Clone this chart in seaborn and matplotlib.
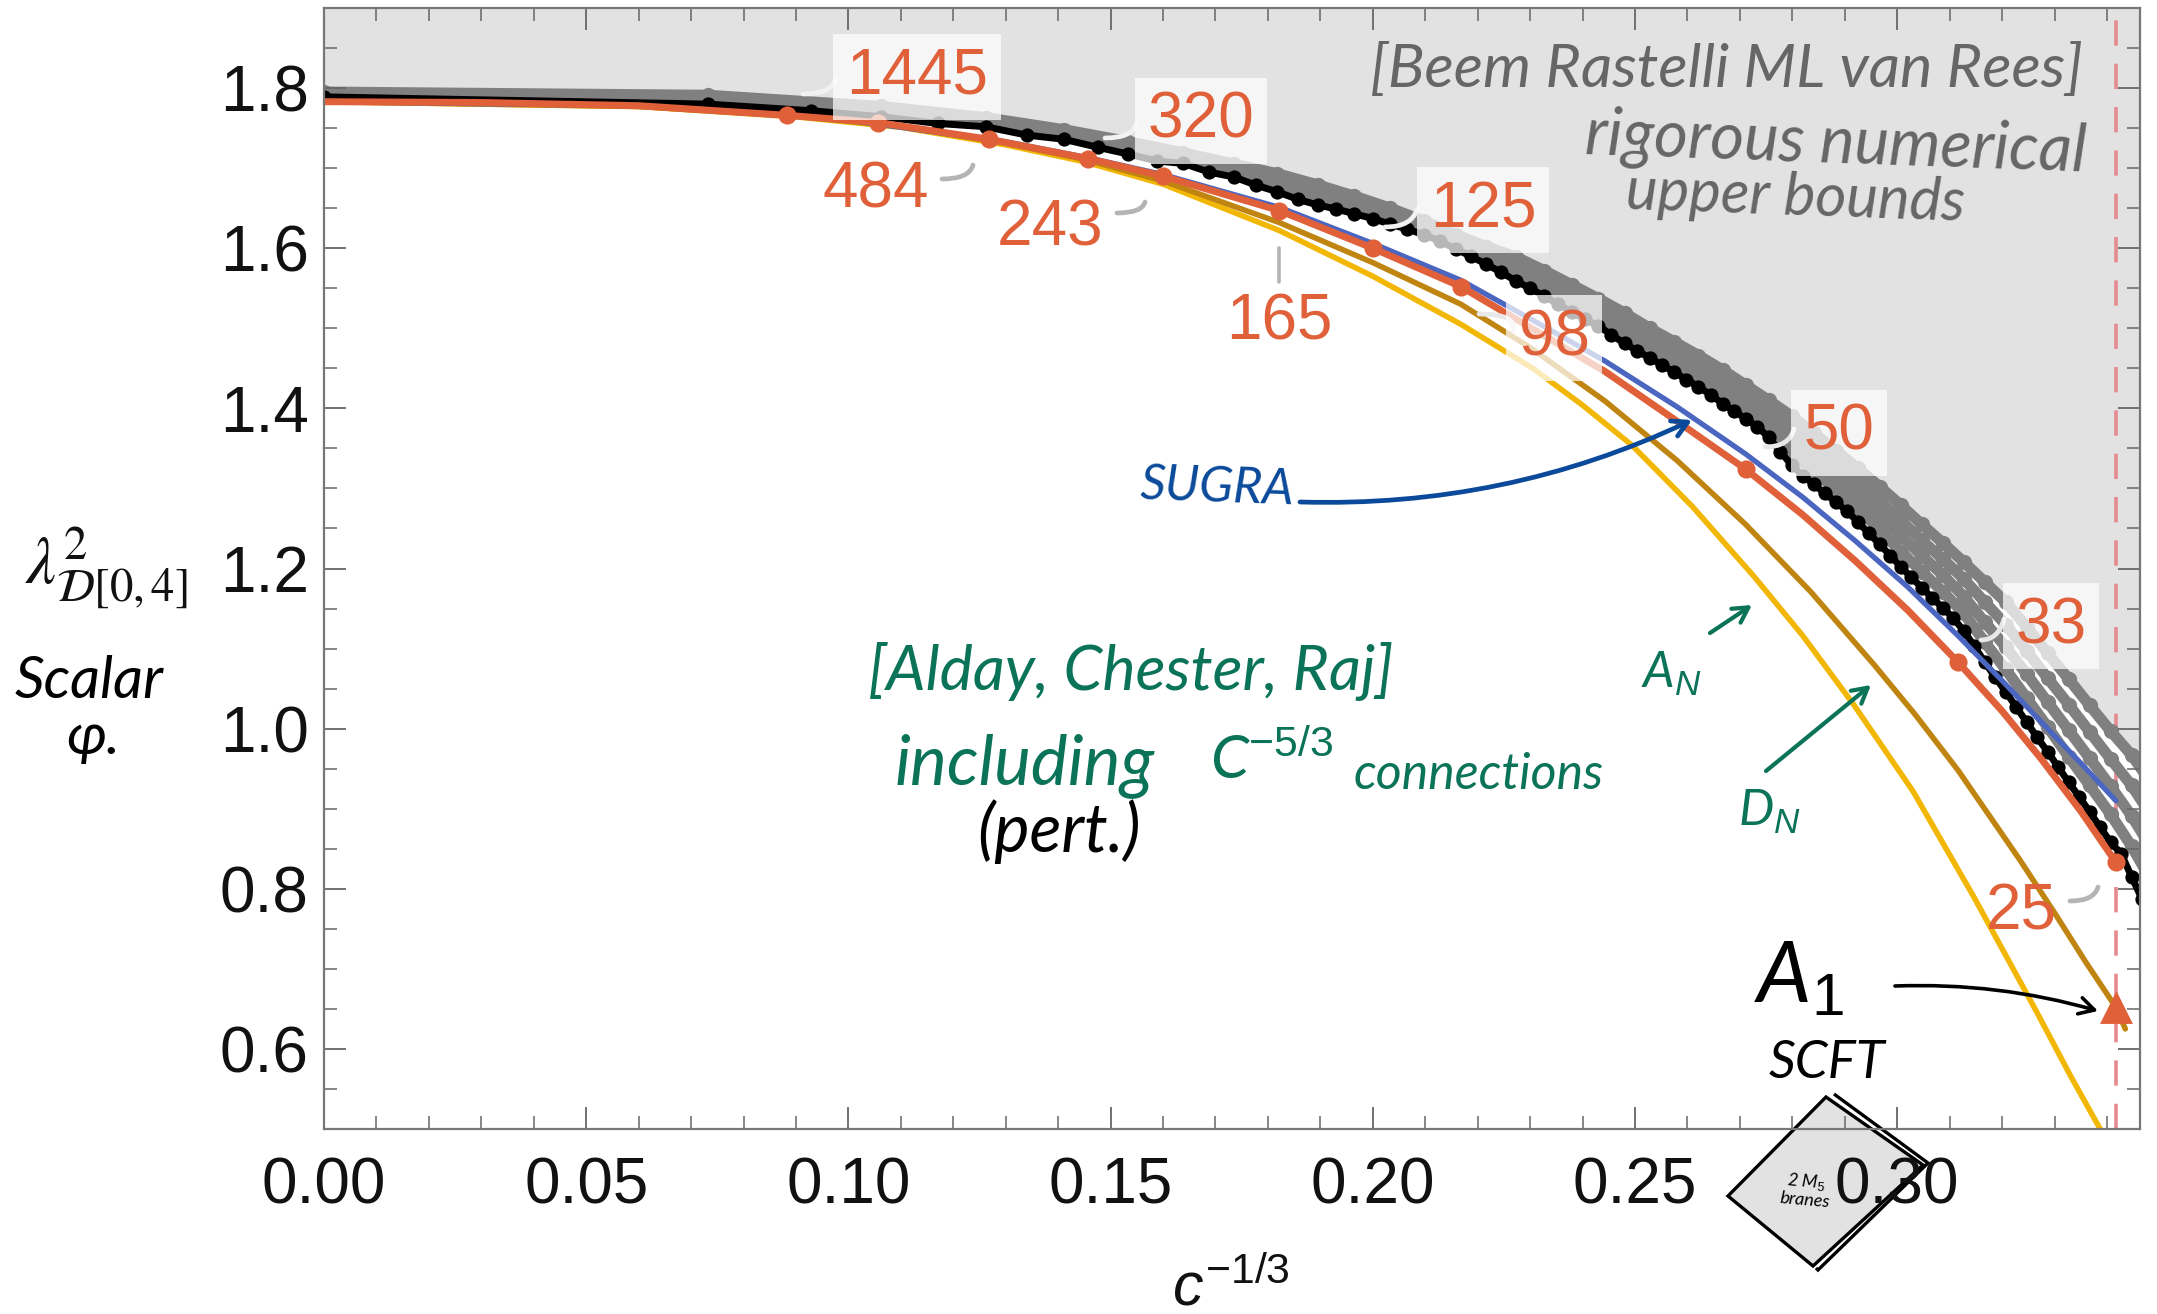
import matplotlib
matplotlib.use("Agg")
import matplotlib.pyplot as plt
import seaborn as sns
from matplotlib.patches import Polygon
from matplotlib.ticker import MultipleLocator

# c^(-1/3) against the OPE coefficient
a_x = [0.0, 0.03, 0.06, 0.0883, 0.1056, 0.1269, 0.1457, 0.16, 0.1822, 0.2, 0.2168, 0.23, 0.2443, 0.258, 0.2711, 0.282,
       0.2921, 0.302, 0.3116, 0.32, 0.3275, 0.335, 0.3417]
a_y = [1.783, 1.782, 1.778, 1.766, 1.757, 1.736, 1.712, 1.69, 1.647, 1.60, 1.552, 1.501, 1.446, 1.384, 1.324, 1.267,
       1.209, 1.148, 1.083, 1.022, 0.962, 0.897, 0.833]
marker_x = [0.0883, 0.1056, 0.1269, 0.1457, 0.16, 0.1822, 0.2, 0.2168, 0.2711, 0.3116, 0.3417]
marker_y = [1.766, 1.757, 1.736, 1.712, 1.69, 1.647, 1.60, 1.552, 1.324, 1.083, 0.833]

sugra_x = [0.0, 0.06, 0.1, 0.13, 0.1457, 0.16, 0.1822, 0.2, 0.2168, 0.23, 0.2443, 0.258, 0.2711, 0.282, 0.2921, 0.302,
           0.3116, 0.32, 0.3275, 0.335, 0.3417]
sugra_y = [1.783, 1.778, 1.76, 1.733, 1.713, 1.692, 1.651, 1.606, 1.56, 1.512, 1.459, 1.402, 1.343, 1.289, 1.234, 1.177,
           1.116, 1.06, 1.008, 0.957, 0.91]

d_x = [0.0, 0.06, 0.09, 0.11, 0.13, 0.145, 0.16, 0.1822, 0.2, 0.2168, 0.23, 0.2443, 0.258, 0.2711, 0.2835, 0.2957,
       0.3035, 0.3116, 0.3175, 0.3235, 0.33, 0.336, 0.3417, 0.3435]
d_y = [1.783, 1.777, 1.765, 1.752, 1.731, 1.711, 1.684, 1.632, 1.582, 1.53, 1.476, 1.409, 1.335, 1.255, 1.171, 1.079,
       1.017, 0.948, 0.892, 0.835, 0.77, 0.708, 0.652, 0.625]

yellow_x = [0.0, 0.06, 0.09, 0.11, 0.13, 0.145, 0.16, 0.1822, 0.2, 0.2168, 0.2305, 0.24, 0.2494, 0.261, 0.2727, 0.282,
            0.2917, 0.303, 0.3146, 0.3267, 0.333, 0.3387, 0.342]
yellow_y = [1.783, 1.777, 1.764, 1.751, 1.729, 1.708, 1.68, 1.622, 1.565, 1.505, 1.45, 1.404, 1.354, 1.277, 1.19, 1.116,
            1.03, 0.922, 0.79, 0.645, 0.567, 0.50, 0.46]

black_x = [0.0, 0.0732, 0.0929, 0.1063, 0.117, 0.1262, 0.134, 0.1411, 0.1476, 0.1534, 0.1588, 0.1639, 0.1688, 0.1735,
           0.1777, 0.1818, 0.1857, 0.1895, 0.193, 0.1965, 0.2, 0.2033, 0.2065, 0.2097, 0.2128, 0.2158, 0.2187, 0.2216,
           0.2245, 0.2273, 0.23, 0.2327, 0.2354, 0.238, 0.2405, 0.243, 0.2455, 0.248, 0.2504, 0.2528, 0.2552, 0.2575,
           0.2598, 0.2621, 0.2644, 0.2667, 0.2689, 0.2711, 0.2733, 0.2755, 0.2777, 0.2799, 0.282, 0.2841, 0.2862, 0.2883,
           0.2904, 0.2925, 0.2946, 0.2967, 0.2987, 0.3007, 0.3027, 0.3047, 0.3067, 0.3087, 0.3107, 0.3127, 0.3147, 0.3167,
           0.3187, 0.3207, 0.3227, 0.3247, 0.3267, 0.3287, 0.3307, 0.3327, 0.3347, 0.3367, 0.3387, 0.3407, 0.3427, 0.3447, 0.3467]
black_y = [1.789, 1.78, 1.7717, 1.7642, 1.7558, 1.7517, 1.7413, 1.736, 1.726, 1.7175, 1.709, 1.7058, 1.695, 1.689,
           1.6788, 1.6704, 1.661, 1.654, 1.649, 1.643, 1.637, 1.63, 1.624, 1.617, 1.609, 1.599, 1.59, 1.58,
           1.57, 1.559, 1.55, 1.54, 1.53, 1.52, 1.511, 1.503, 1.492, 1.481, 1.472, 1.463, 1.454, 1.445,
           1.436, 1.427, 1.417, 1.406, 1.397, 1.387, 1.377, 1.364, 1.346, 1.329, 1.316, 1.305, 1.294, 1.283,
           1.272, 1.258, 1.244, 1.23, 1.216, 1.202, 1.189, 1.176, 1.163, 1.151, 1.138, 1.122, 1.103, 1.083,
           1.064, 1.046, 1.027, 1.008, 0.989, 0.971, 0.952, 0.933, 0.915, 0.896, 0.877, 0.858, 0.844, 0.815, 0.787]

gray_x = [0.0, 0.0732, 0.1063, 0.1262, 0.1411, 0.1534, 0.1639, 0.1735, 0.1818, 0.1895, 0.1965, 0.2033, 0.2097, 0.2158,
          0.2216, 0.2273, 0.2327, 0.238, 0.243, 0.248, 0.2528, 0.2575, 0.2621, 0.2667, 0.2711, 0.2755, 0.2799, 0.2841,
          0.2883, 0.2925, 0.2967, 0.3007, 0.3047, 0.3087, 0.3127, 0.3167, 0.3207, 0.3247, 0.3287, 0.3327, 0.3367, 0.3407,
          0.3447, 0.3476]
gray_top = [1.795, 1.791, 1.777, 1.763, 1.748, 1.733, 1.719, 1.705, 1.693, 1.679, 1.665, 1.65, 1.634, 1.617,
            1.602, 1.589, 1.572, 1.554, 1.537, 1.519, 1.50, 1.483, 1.466, 1.448, 1.429, 1.41, 1.39, 1.369,
            1.347, 1.325, 1.302, 1.279, 1.255, 1.232, 1.208, 1.183, 1.158, 1.127, 1.094, 1.062, 1.029, 0.997,
            0.967, 0.94]
gray_2 = [1.793, 1.788, 1.774, 1.76, 1.745, 1.729, 1.716, 1.701, 1.687, 1.673, 1.66, 1.645, 1.63, 1.613,
          1.597, 1.581, 1.564, 1.545, 1.529, 1.51, 1.491, 1.474, 1.456, 1.438, 1.419, 1.399, 1.375, 1.353,
          1.331, 1.308, 1.284, 1.26, 1.235, 1.212, 1.187, 1.158, 1.13, 1.097, 1.063, 1.03, 0.996, 0.962,
          0.929, 0.90]
gray_3 = [1.792, 1.7855, 1.7706, 1.757, 1.742, 1.725, 1.712, 1.697, 1.682, 1.667, 1.654, 1.64, 1.625, 1.608,
          1.591, 1.574, 1.556, 1.537, 1.52, 1.50, 1.482, 1.464, 1.447, 1.427, 1.408, 1.387, 1.36, 1.337,
          1.315, 1.292, 1.266, 1.241, 1.216, 1.192, 1.165, 1.133, 1.102, 1.068, 1.033, 0.998, 0.963, 0.928,
          0.891, 0.86]
gray_4 = [1.791, 1.783, 1.767, 1.755, 1.739, 1.721, 1.709, 1.693, 1.676, 1.66, 1.649, 1.635, 1.621, 1.604,
          1.586, 1.567, 1.548, 1.529, 1.512, 1.491, 1.472, 1.455, 1.437, 1.417, 1.398, 1.376, 1.344, 1.321,
          1.299, 1.275, 1.248, 1.221, 1.196, 1.171, 1.144, 1.108, 1.074, 1.038, 1.002, 0.965, 0.929, 0.893,
          0.853, 0.82]

a1_x = [0.3417]
a1_y = [0.652]
c25_line = 0.3417

x_ticks = [0.00, 0.05, 0.10, 0.15, 0.20, 0.25, 0.30]
y_ticks = [0.6, 0.8, 1.0, 1.2, 1.4, 1.6, 1.8]

RED = "#e0603a"
W, H = 2157, 1314


def fp(x, y):
    # full size pixel -> figure fraction
    return x / W, 1 - y / H


sns.set_theme(style="ticks")
plt.rcParams["font.family"] = ["Liberation Sans", "DejaVu Sans"]
plt.rcParams["mathtext.fontset"] = "custom"
plt.rcParams["mathtext.rm"] = "Liberation Sans"
plt.rcParams["mathtext.it"] = "Liberation Sans:italic"

fig = plt.figure(figsize=(W / 100, H / 100), dpi=100, facecolor="white")
ax = fig.add_axes([324 / W, 1 - 1129 / H, (2140 - 324) / W, (1129 - 8) / H])
ax.set_axisbelow(False)

ax.fill_between(gray_x, gray_top, 1.9, color="#e2e2e2", lw=0, zorder=1)

for row in [gray_top, gray_2, gray_3, gray_4]:
    sns.lineplot(x=gray_x, y=row, ax=ax, color="#808080", lw=8, marker="o", markersize=11,
                 markeredgewidth=0, estimator=None, sort=False, zorder=2)

sns.lineplot(x=black_x, y=black_y, ax=ax, color="black", lw=5, estimator=None, sort=False, zorder=3)
sns.scatterplot(x=black_x, y=black_y, ax=ax, color="black", s=105, linewidth=0, zorder=3)

ax.axvline(c25_line, color="#e58a8f", lw=2.6, dashes=(7, 5), zorder=1.5)

sns.lineplot(x=yellow_x, y=yellow_y, ax=ax, color="#f2b705", lw=4, estimator=None, sort=False, zorder=4)
sns.lineplot(x=d_x, y=d_y, ax=ax, color="#c08410", lw=4, estimator=None, sort=False, zorder=4.1)
sns.lineplot(x=sugra_x, y=sugra_y, ax=ax, color="#4a66c0", lw=3.8, estimator=None, sort=False, zorder=4.2)
sns.lineplot(x=a_x, y=a_y, ax=ax, color=RED, lw=5, estimator=None, sort=False, zorder=4.3)
sns.scatterplot(x=marker_x, y=marker_y, ax=ax, color=RED, s=170, linewidth=0, zorder=4.4)
sns.scatterplot(x=a1_x, y=a1_y, ax=ax, color=RED, marker="^", s=560, linewidth=0, zorder=4.4)

ax.set_xlim(0, 0.3463)
ax.set_ylim(0.5, 1.9)
ax.set_xticks(x_ticks)
ax.set_xticklabels([f"{t:.2f}" for t in x_ticks])
ax.set_yticks(y_ticks)
ax.set_yticklabels([f"{t:.1f}" for t in y_ticks])
ax.xaxis.set_minor_locator(MultipleLocator(0.01))
ax.yaxis.set_minor_locator(MultipleLocator(0.05))
ax.tick_params(which="major", direction="in", length=16, width=1.3, color="#666666", top=True, right=True,
               labelsize=46, labelcolor="#111111")
ax.tick_params(axis="x", which="major", pad=20)
ax.tick_params(axis="y", which="major", pad=11)
ax.tick_params(which="minor", direction="in", length=9.5, width=1.1, color="#666666", top=True, right=True)
for s in ax.spines.values():
    s.set_color("#777777")
    s.set_linewidth(1.6)
    s.set_zorder(6)

# number labels with a pale box
boxed = [("1445", 917, 77), ("320", 1201, 121), ("125", 1483, 210), ("98", 1554, 338), ("50", 1839, 433), ("33", 2051, 626)]
for txt, x, y in boxed:
    ax.annotate(txt, xy=fp(x, y), xycoords="figure fraction", ha="center", va="center", fontsize=46, color=RED, zorder=8,
                bbox=dict(boxstyle="square,pad=0.2", fc="white", ec="none", alpha=0.72))
plain = [("484", 876, 191), ("243", 1050, 228), ("165", 1279, 323), ("25", 2021, 912)]
for txt, x, y in plain:
    ax.annotate(txt, xy=fp(x, y), xycoords="figure fraction", ha="center", va="center", fontsize=46, color=RED, zorder=8)

# little hooks from the labels to the curve
hooks = [(803, 94, 835, 80, "#f2f2f2"), (1105, 138, 1136, 124, "#f2f2f2"), (1385, 227, 1417, 209, "#f2f2f2"),
         (1479, 314, 1513, 330, "#e8e8e8"), (1765, 447, 1794, 429, "#e8e8e8"), (1981, 640, 2004, 619, "#e8e8e8"),
         (942, 179, 973, 165, "#b4b4b4"), (1117, 213, 1145, 202, "#b4b4b4"), (2070, 901, 2098, 887, "#b4b4b4")]
for x0, y0, x1, y1, col in hooks:
    ax.annotate("", xy=fp(x1, y1), xytext=fp(x0, y0), xycoords="figure fraction", textcoords="figure fraction", zorder=7,
                arrowprops=dict(arrowstyle="-", color=col, lw=3.4, connectionstyle="angle3,angleA=0,angleB=75",
                                shrinkA=0, shrinkB=0))
ax.annotate("", xy=fp(1279, 248), xytext=fp(1279, 282), xycoords="figure fraction", textcoords="figure fraction", zorder=7,
            arrowprops=dict(arrowstyle="-", color="#b4b4b4", lw=2.6, shrinkA=0, shrinkB=0))

# axis titles
fig.text(*fp(1231, 1289), r"$c^{-1/3}$", fontsize=44, ha="center", va="center", color="#111111")
fig.text(*fp(106, 568), r"$\lambda^{2}_{\mathcal{D}[0,4]}$", fontsize=48, ha="center", va="center", color="#111111",
         math_fontfamily="stix")

# handwritten notes
HAND = ["Lato", "DejaVu Sans"]
GREY, GREEN, BLUE = "#666666", "#0a7358", "#0b4a9a"
notes = [
    ("[Beem Rastelli ML van Rees]", 1726, 70, 44, GREY, 0),
    ("rigorous numerical", 1836, 145, 47, GREY, -2),
    ("upper bounds", 1795, 198, 43, GREY, -2),
    ("SUGRA", 1217, 488, 36, BLUE, -2),
    ("[Alday, Chester, Raj]", 1131, 671, 45, GREEN, 0),
    ("including", 1025, 766, 50, GREEN, 0),
    (r"C$^{-5/3}$", 1272, 760, 44, GREEN, 0),
    ("connections", 1479, 775, 36, GREEN, 0),
    ("(pert.)", 1059, 832, 48, "black", 0),
    ("A$_{N}$", 1671, 674, 36, GREEN, 0),
    ("D$_{N}$", 1770, 812, 36, GREEN, 0),
    ("A$_{1}$", 1799, 979, 62, "black", 0),
    ("SCFT", 1827, 1063, 38, "black", 0),
    ("Scalar", 89, 681, 42, "black", 0),
    ("φ.", 93, 738, 42, "black", 0),
]
for txt, x, y, size, col, rot in notes:
    fig.text(*fp(x, y), txt, fontsize=size, color=col, rotation=rot, ha="center", va="center", family=HAND,
             style="italic", zorder=9)

arrows = [
    (1300, 502, 1692, 420, BLUE, "arc3,rad=0.12", 3.4),
    (1710, 633, 1752, 605, GREEN, "arc3,rad=0", 3),
    (1766, 771, 1871, 685, GREEN, "arc3,rad=0", 3),
    (1895, 986, 2098, 1011, "black", "arc3,rad=-0.08", 2.6),
]
for x0, y0, x1, y1, col, style, lw in arrows:
    ax.annotate("", xy=fp(x1, y1), xytext=fp(x0, y0), xycoords="figure fraction", textcoords="figure fraction", zorder=9,
                arrowprops=dict(arrowstyle="->,head_length=0.9,head_width=0.5", color=col, lw=lw,
                                connectionstyle=style, shrinkA=0, shrinkB=0))

# the brane sketch sits under the tick labels
for pts, fc in [([(1834, 1094), (1928, 1163), (1818, 1270), (1816, 1268)], "none"),
                ([(1826, 1097), (1923, 1165), (1813, 1266), (1728, 1196)], "#e2e2e2")]:
    ax.add_patch(Polygon([fp(*p) for p in pts], closed=fc != "none", fc=fc, ec="black", lw=2.4, transform=fig.transFigure,
                         clip_on=False, zorder=1.2))
fig.text(*fp(1806, 1190), "2 M$_5$\nbranes", fontsize=13, color="black", ha="center", va="center", rotation=-5, family=HAND,
         style="italic", linespacing=1.0)

fig.savefig("out.png", dpi=100)
